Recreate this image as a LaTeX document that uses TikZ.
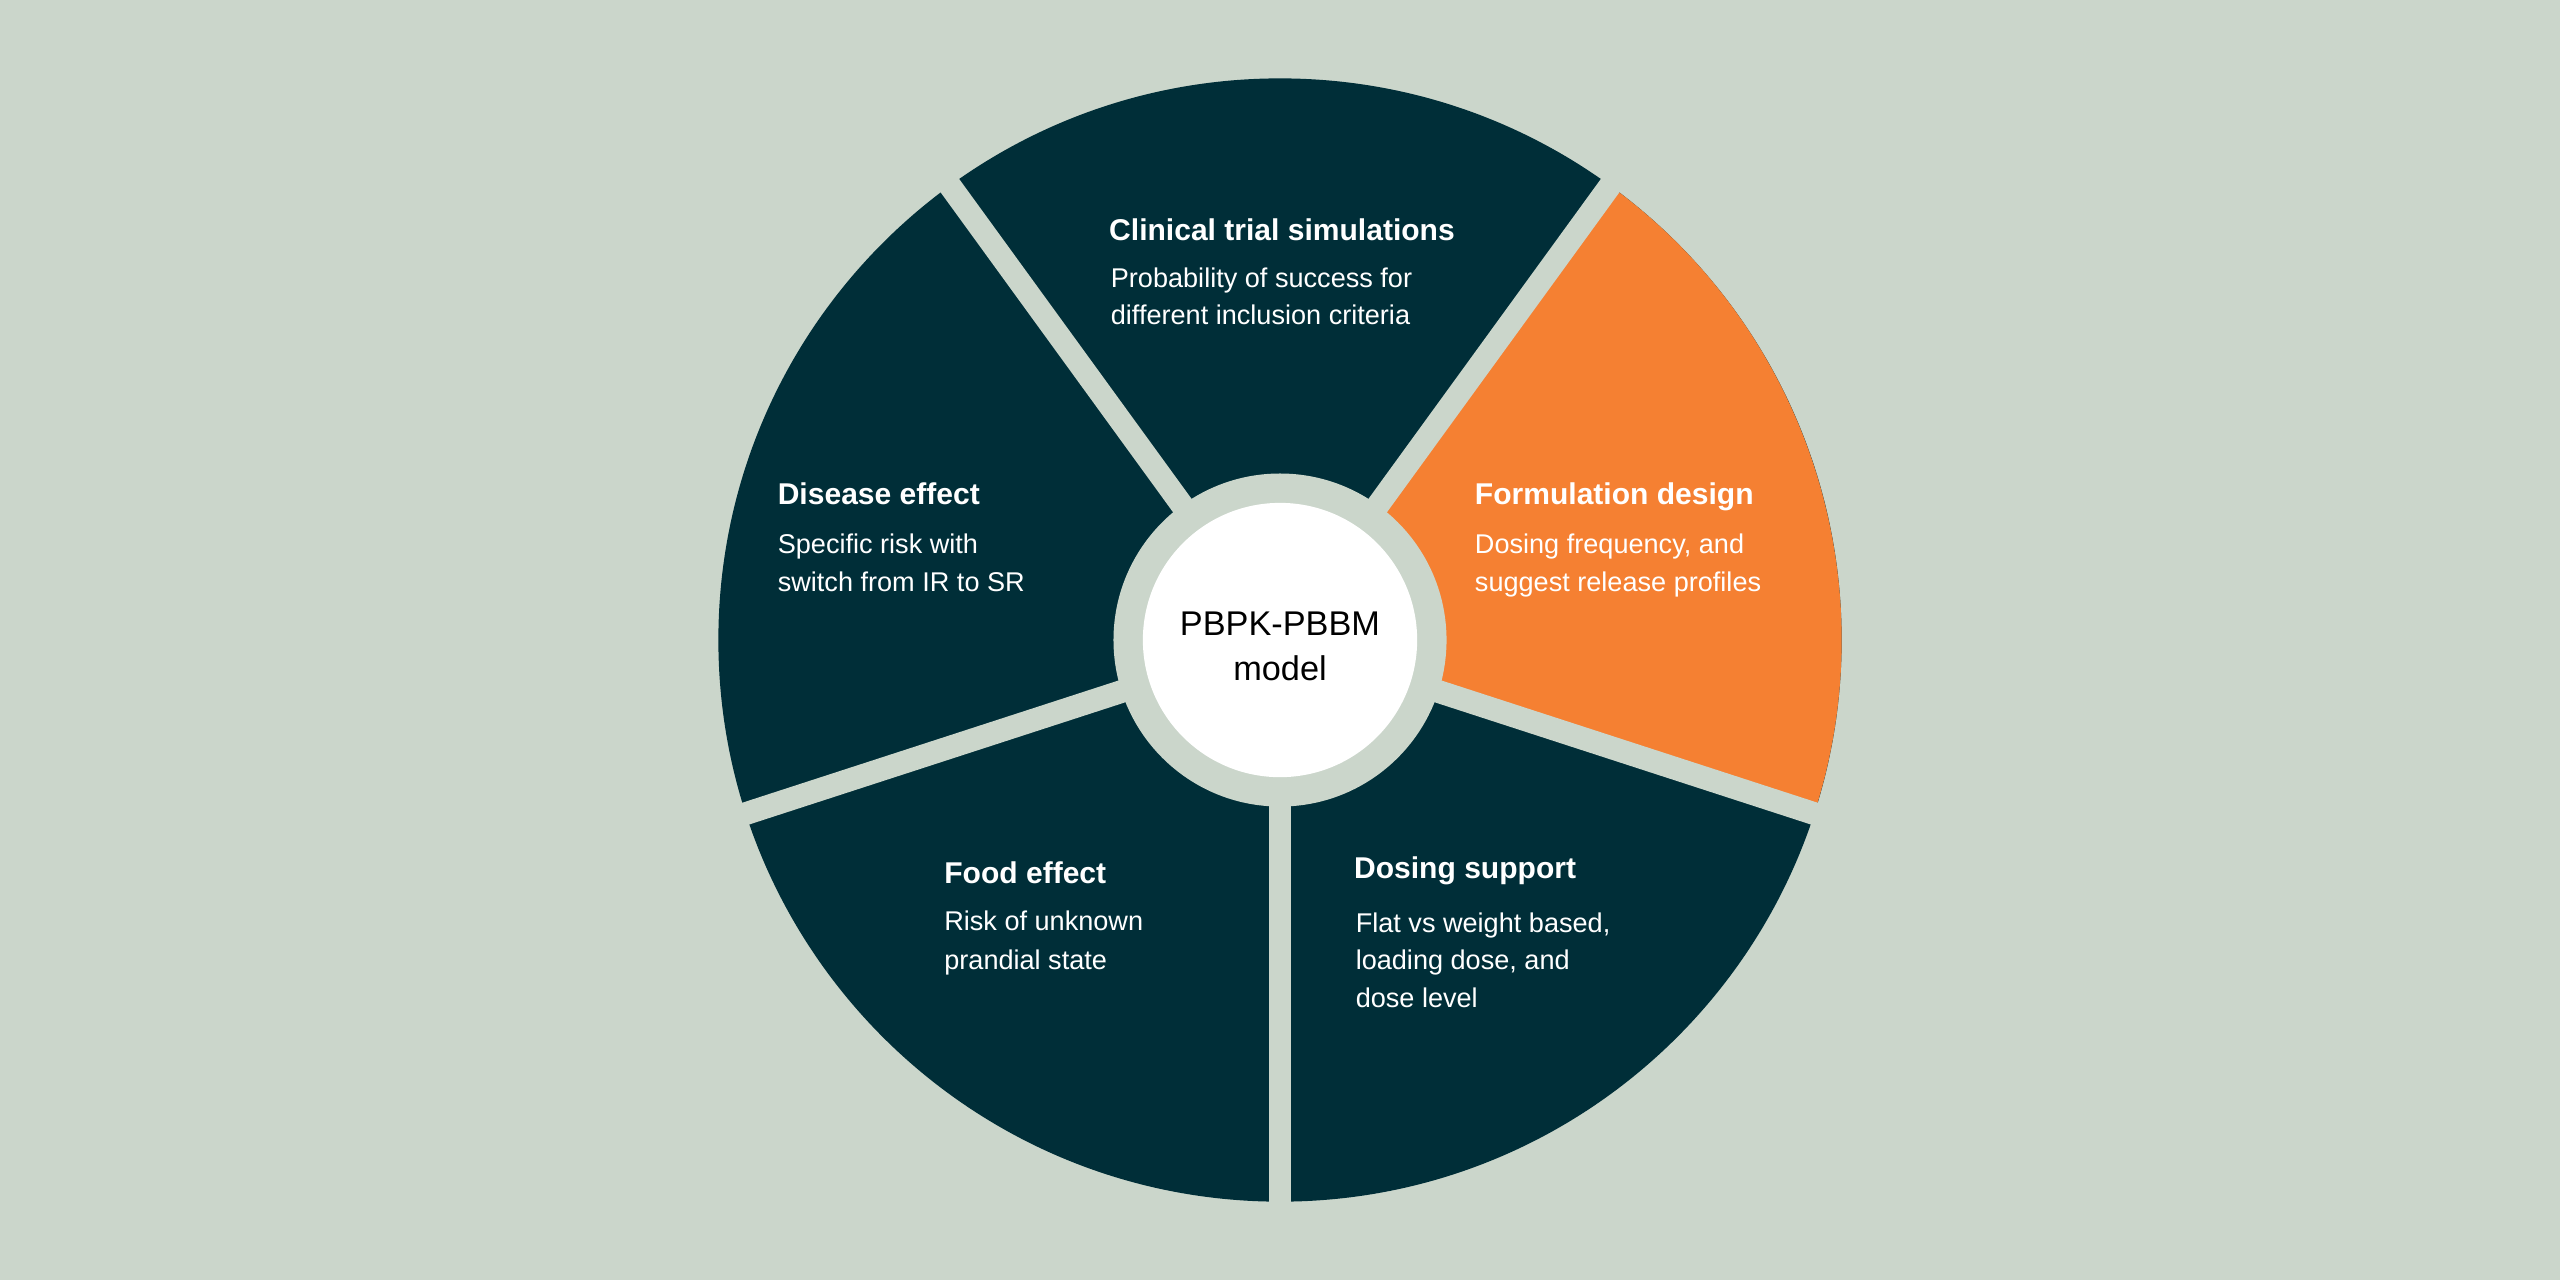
\documentclass[tikz,border=0pt]{standalone}
\usepackage{fontspec}
\setmainfont{Liberation Sans}
\definecolor{bg}{HTML}{CBD6CB}
\definecolor{dk}{HTML}{002E38}
\definecolor{orng}{HTML}{F58032}
\tikzset{ttl/.style={anchor=base west,inner sep=0,text=white,font=\fontsize{9.2}{11}\selectfont\bfseries},
 bdy/.style={anchor=base west,inner sep=0,text=white,font=\fontsize{8.3}{11}\selectfont},
 ctr/.style={anchor=base,inner sep=0,text=black,font=\fontsize{10.5}{12}\selectfont},
 gap/.style={bg,line width=7pt}}
\begin{document}
\begin{tikzpicture}[x=0.5pt,y=-0.5pt]
\fill[bg] (0,0) rectangle (1568,784);
\useasboundingbox (0,0) rectangle (1568,784);
\coordinate (c) at (784,392);
\fill[dk] (c) circle[radius=172pt];
\fill[orng] (c) -- ++(18:344) arc[start angle=18,end angle=-54,radius=344] -- cycle;
\foreach \a in {90,162,234,306,18} \draw[gap] (c) -- ++(\a:370);
\fill[bg] (c) circle[radius=51pt];
\fill[white] (c) circle[radius=42pt];
\node[ctr] (m1) at (784,389) {PBPK-PBBM};
\node[ctr] (m2) at (784,417) {model};
\node[ttl] (t1) at (679,147) {Clinical trial simulations};
\node[bdy] (b1a) at (680,176) {Probability of success for};
\node[bdy] (b1b) at (680,199) {different inclusion criteria};
\node[ttl] (t2) at (903,309) {Formulation design};
\node[bdy] (b2a) at (903,339) {Dosing frequency, and};
\node[bdy] (b2b) at (903,362) {suggest release profiles};
\node[ttl] (t3) at (476,309) {Disease effect};
\node[bdy] (b3a) at (476,339) {Specific risk with};
\node[bdy] (b3b) at (476,362) {switch from IR to SR};
\node[ttl] (t4) at (578,541) {Food effect};
\node[bdy] (b4a) at (578,570) {Risk of unknown};
\node[bdy] (b4b) at (578,594) {prandial state};
\node[ttl] (t5) at (829,538) {Dosing support};
\node[bdy] (b5a) at (830,571) {Flat vs weight based,};
\node[bdy] (b5b) at (830,594) {loading dose, and};
\node[bdy] (b5c) at (830,617) {dose level};
\end{tikzpicture}
\end{document}
